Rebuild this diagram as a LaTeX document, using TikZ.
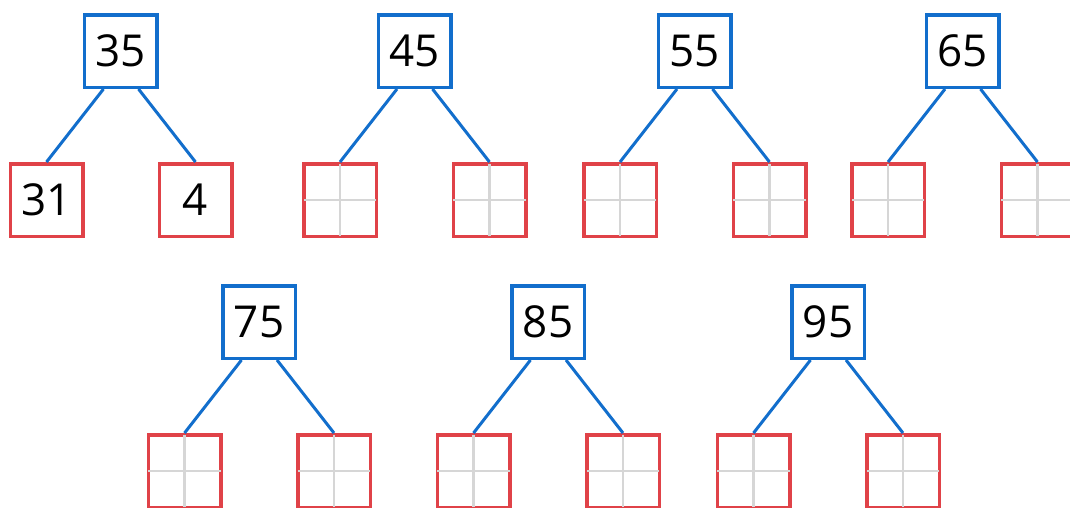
\documentclass[tikz,border=0pt]{standalone}
\usepackage{fontspec}
\setmainfont{Open Sans}
\usetikzlibrary{calc}
\definecolor{tblue}{RGB}{18,110,204}
\definecolor{tred}{RGB}{224,66,72}
\definecolor{tgrid}{RGB}{214,214,214}
\begin{document}
\begin{tikzpicture}[x=1pt,y=-1pt,
  parentbox/.style={draw=tblue,line width=3.5pt,minimum size=72.5pt,inner sep=0pt,font=\fontsize{44}{44}\selectfont},
  childbox/.style={draw=tred,line width=3.5pt,minimum size=72.5pt,inner sep=0pt,font=\fontsize{44}{44}\selectfont},
  conn/.style={draw=tblue,line width=3pt},
  gridline/.style={draw=tgrid,line width=2.5pt,shorten >=1.75pt,shorten <=1.75pt}]
\useasboundingbox (0,0) rectangle (1070,507);
\clip (0,0) rectangle (1070,507);
% first tree with values
\node[parentbox] (p1) at (120.5,51) {35};
\node[childbox] (l1) at (46.5,200) {31};
\node[childbox] (r1) at (195.5,200) {4};
\draw[conn] ([xshift=-17pt]p1.south) -- (l1.north);
\draw[conn] ([xshift=18pt]p1.south) -- (r1.north);
% remaining trees with empty grids
\foreach \n/\cx/\cy/\v in {2/414.5/51/45, 3/694.5/51/55, 4/962.5/51/65, 5/259/322/75, 6/548/322/85, 7/828/322/95}{
  \node[parentbox] (p\n) at (\cx,\cy) {\v};
  \node[childbox] (l\n) at ($(\cx,\cy)+(-74.5,149)$) {};
  \node[childbox] (r\n) at ($(\cx,\cy)+(75,149)$) {};
  \draw[gridline] (l\n.north) -- (l\n.south);
  \draw[gridline] (l\n.west) -- (l\n.east);
  \draw[gridline] (r\n.north) -- (r\n.south);
  \draw[gridline] (r\n.west) -- (r\n.east);
  \draw[conn] ([xshift=-17.5pt]p\n.south) -- (l\n.north);
  \draw[conn] ([xshift=18pt]p\n.south) -- (r\n.north);
}
\end{tikzpicture}
\end{document}
